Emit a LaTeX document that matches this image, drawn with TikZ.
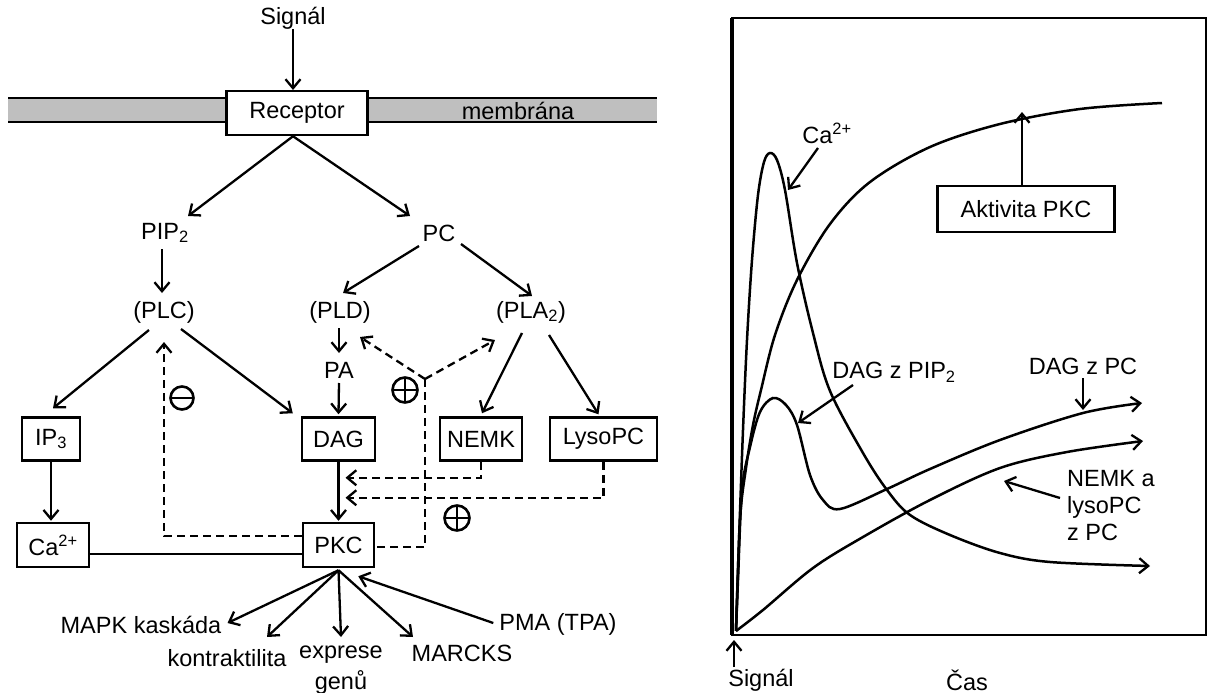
\documentclass[tikz,border=0pt]{standalone}
\usepackage{fontspec}
\setmainfont{Liberation Sans}
\usetikzlibrary{arrows.meta,calc}
\begin{document}
\begin{tikzpicture}[x=1pt,y=-1pt,
  every node/.style={inner sep=0pt, font=\fontsize{23.5}{27}\selectfont},
  box/.style={draw, line width=2.5pt, fill=white, minimum height=43pt},
  barb/.style={-{Straight Barb[length=9pt,width=15pt,line width=2.3pt]}},
  arr/.style={line width=2.3pt, barb},
  ln/.style={line width=2.3pt},
  dsh/.style={line width=2.3pt, dash pattern=on 8pt off 5pt},
  darr/.style={dsh, barb},
  sign/.style={circle, draw, line width=2.6pt, minimum size=25pt},
  curve/.style={line width=2.5pt},
]
\useasboundingbox (0,0) rectangle (1208,693);

% ---------- left panel ----------
\fill[gray!50] (8,98) rectangle (657,122);
\draw[ln] (8,98) -- (657,98);
\draw[ln] (8,122) -- (657,122);

\node (sig) at (293,18) {Signál};
\node[box, minimum width=141pt, minimum height=44pt] (rec) at (297,113) {Receptor};
\node (mem) at (518,111) {membrána};
\draw[arr] (sig.south -| 293,0) -- (293,90);

\node (pip2) at (165,233) {PIP\textsubscript{2}};
\node (pc) at (439,233) {PC};
\node (plc) at (164,312) {(PLC)};
\node (pld) at (340,312) {(PLD)};
\node (pla) at (531,312) {(PLA\textsubscript{2})};
\node (pa) at (339,370) {PA};

\node[box, minimum width=58pt] (ip3) at (51,439) {IP\textsubscript{3}};
\node[box, minimum width=73pt] (dag) at (338.5,439) {DAG};
\node[box, minimum width=82pt] (nemk) at (481,439) {NEMK};
\node[box, minimum width=107pt] (lyso) at (603.5,439) {LysoPC};
\node[box, minimum width=72pt, minimum height=44pt] (ca) at (53,545) {Ca\textsuperscript{2+}};
\node[box, minimum width=71pt, minimum height=44pt] (pkc) at (338.5,545) {PKC};

\node (mapk) at (141,625) {MAPK kaskáda};
\node (kon) at (227,658) {kontraktilita};
\node (exp) at (341,655) {exprese};
\node (gen) at (341,682) {genů};
\node (marcks) at (462,653) {MARCKS};
\node (pma) at (558,624) {PMA (TPA)};

\node[sign] (plus1) at (405,390) {};
\draw[line width=2.6pt] ($(plus1.north)+(0,2)$) -- ($(plus1.south)+(0,-2)$) ($(plus1.west)+(2,0)$) -- ($(plus1.east)+(-2,0)$);
\node[sign] (plus2) at (457,518) {};
\draw[line width=2.6pt] ($(plus2.north)+(0,2)$) -- ($(plus2.south)+(0,-2)$) ($(plus2.west)+(2,0)$) -- ($(plus2.east)+(-2,0)$);
\node[sign, minimum size=23pt] (minus) at (182,398) {};
\draw[line width=2.6pt] ($(minus.west)+(2,0)$) -- ($(minus.east)+(-2,0)$);

% solid arrows
\draw[arr] ($(rec.south)+(-4,0)$) -- ($(pip2)+(23,-17)$);
\draw[arr] ($(rec.south)+(-4,0)$) -- ($(pc)+(-29,-17)$);
\draw[arr] ($(pip2)+(-3,16)$) -- ($(plc)+(-2,-19)$);
\draw[arr] ($(pc)+(-20,13)$) -- ($(pld)+(3,-19)$);
\draw[arr] ($(pc)+(22,11)$) -- ($(pla)+(1,-16)$);
\draw[arr] ($(plc)+(-15,18)$) -- ($(ip3.north)+(2,-8)$);
\draw[arr] ($(plc)+(17,17)$) -- ($(dag.north west)+(-8,-3)$);
\draw[arr] ($(pld)+(-1,16)$) -- ($(pa)+(0,-17)$);
\draw[arr] ($(pa)+(0,13)$) -- ($(dag.north)+(0,-2)$);
\draw[arr] ($(pla)+(-9,21)$) -- ($(nemk.north)+(1,-3)$);
\draw[arr] ($(pla)+(18,23)$) -- ($(lyso.north)+(-5,-2)$);
\draw[arr] (dag.south) -- ($(pkc.north)+(0,-1)$);
\draw[arr] (ip3.south) -- ($(ip3.south |- ca.north)+(0,-1)$);
\draw[ln] ($(ca.east)+(0,9)$) -- ($(pkc.west)+(0,9)$);

% dashed
\coordinate (j) at (425,379);
\draw[darr] (j) -- ($(pld)+(20,25)$);
\draw[darr] (j) -- ($(pla)+(-36,28)$);
\draw[dsh] (j) |- ($(pkc.east)+(0,2)$);
\draw[darr] ($(pkc.west)+(0,-9)$) -| ($(plc)+(0,30)$);
\draw[darr] (nemk.south) |- ($(dag.south)+(7,16)$);
\draw[darr] (lyso.south) |- ($(dag.south)+(7,36)$);

% outputs
\coordinate (pk) at ($(pkc.south)+(0,2)$);
\draw[arr] (pk) -- ($(mapk.east)+(6,-2)$);
\draw[arr] (pk) -- ($(kon)+(40,-21)$);
\draw[arr] (pk) -- ($(exp)+(0,-18)$);
\draw[arr] (pk) -- ($(marcks)+(-49,-16)$);
\draw[arr] ($(pma.west)+(-6,-1)$) -- ($(pkc.south east)+(-17,8)$);

% ---------- right panel ----------
\draw[line width=2.6pt] (732,18) rectangle (1206,635);
\draw[line width=3.8pt] (732,18) -- (732,635);

\draw[curve] plot[smooth, tension=0.55] coordinates {(736,631) (740,520) (746,468) (753,425) (761,390) (775,335) (797,280) (830,224) (870,182) (930,147) (1000,124) (1080,109) (1162,103)};
\draw[curve, barb] plot[smooth, tension=0.55] coordinates {(736,631) (739,540) (743,430) (747,340) (752,260) (758,195) (764,162) (770,153) (777,160) (785,190) (797,263) (813,333) (830,391) (863,453) (887,490) (910,515) (950,535) (1000,553) (1050,562) (1150,566)};
\draw[curve, barb] plot[smooth, tension=0.55] coordinates {(736,631) (738,580) (742,490) (750,447) (760,412) (773,398) (786,405) (797,425) (810,475) (823,500) (840,509) (887,489) (930,469) (1000,440) (1083,413) (1142,403)};
\draw[curve, barb] plot[smooth, tension=0.55] coordinates {(736,631) (763,610) (813,568) (863,537) (930,500) (1000,468) (1067,452) (1143,441)};

\node (lca) at (827,133) {Ca\textsuperscript{2+}};
\node[box, minimum width=177pt, minimum height=46pt] (akt) at (1026,209) {Aktivita PKC};
\node (ldp) at (894,372) {DAG z PIP\textsubscript{2}};
\node (ldpc) at (1083,366) {DAG z PC};
\node[align=left, anchor=west, font=\fontsize{23.5}{27}\selectfont] (lnemk) at (1067,506) {NEMK a\\lysoPC\\z PC};
\node (rsig) at (761,680) {Signál};
\node (cas) at (967,680) {Čas};

\draw[arr] ($(lca)+(-9,15)$) -- (788,190);
\draw[arr] ($(akt.north)+(-4,0)$) -- (1022,112);
\draw[arr] ($(ldp)+(-41,13)$) -- (798,423);
\draw[arr] ($(ldpc)+(0,12)$) -- (1083,410);
\draw[arr] ($(lnemk.west)+(-7,-8)$) -- (1004,481);
\draw[arr] (734,667) -- (734,640);
\end{tikzpicture}
\end{document}
